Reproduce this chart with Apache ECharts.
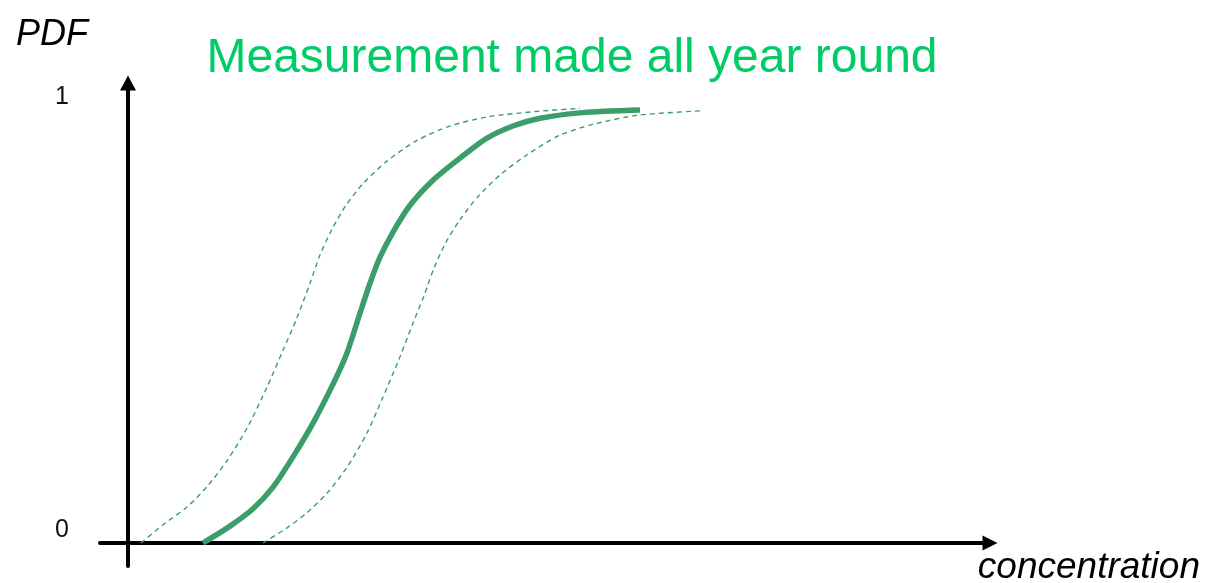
<!DOCTYPE html>
<html>
<head>
<meta charset="utf-8">
<script src="https://cdn.jsdelivr.net/npm/echarts@6/dist/echarts.min.js"></script>
<style>
html,body{margin:0;padding:0;background:#fff;}
#c{width:1208px;height:583px;}
</style>
</head>
<body>
<div id="c"></div>
<script>
const titleText = 'Measurement made all year round';
const xName = 'concentration';
const yName = 'PDF';
const yTickValues = [0, 1];

const mainX = [75, 102, 125, 145, 165, 185, 205, 219, 232, 242, 252, 265, 282, 305, 332, 359, 385, 412, 455, 512];
const mainY = [0, 0.039, 0.079, 0.129, 0.199, 0.277, 0.367, 0.439, 0.531, 0.600, 0.660, 0.718, 0.780, 0.838, 0.889, 0.935, 0.963, 0.981, 0.994, 1.0];

const upperX = [13, 35, 59, 79, 99, 119, 139, 155, 169, 182, 192, 204, 218, 235, 259, 289, 322, 359, 405, 452];
const upperY = [0, 0.042, 0.083, 0.130, 0.190, 0.265, 0.360, 0.445, 0.520, 0.600, 0.665, 0.725, 0.780, 0.830, 0.882, 0.930, 0.963, 0.984, 0.996, 1.004];

const lowerX = [135, 159, 179, 199, 219, 239, 255, 272, 285, 296, 306, 318, 333, 350, 372, 398, 430, 465, 510, 572];
const lowerY = [0, 0.035, 0.070, 0.115, 0.175, 0.254, 0.337, 0.430, 0.508, 0.571, 0.635, 0.695, 0.750, 0.800, 0.850, 0.895, 0.940, 0.967, 0.988, 0.998];

const zip = (xs, ys) => xs.map((x, i) => [x, ys[i]]);
const green = '#3a9d6a';
const font = 'Liberation Sans, Arial, sans-serif';

const chart = echarts.init(document.getElementById('c'), null, {renderer: 'canvas'});
chart.setOption({
  animation: false,
  backgroundColor: '#ffffff',
  title: {
    text: titleText,
    left: 567,
    top: 30,
    textAlign: 'center',
    textStyle: {color: '#00cc66', fontSize: 48, fontWeight: 'normal', fontFamily: font}
  },
  grid: {left: 100, right: 218, top: 83, bottom: 17, containLabel: false, outerBoundsMode: 'none'},
  xAxis: {
    type: 'value',
    min: -28,
    max: 862,
    name: xName,
    nameLocation: 'end',
    nameGap: 210,
    nameTextStyle: {fontSize: 37, fontStyle: 'italic', color: '#000', fontFamily: font, align: 'right', verticalAlign: 'top', padding: [6, 0, 0, 0]},
    axisLine: {onZero: true, symbol: ['none', 'triangle'], symbolSize: [15, 15], lineStyle: {color: '#000', width: 4}},
    axisTick: {show: false},
    axisLabel: {show: false},
    splitLine: {show: false}
  },
  yAxis: {
    type: 'value',
    min: -0.0531,
    max: 1.0624,
    name: yName,
    nameLocation: 'end',
    nameGap: 30,
    nameTextStyle: {fontSize: 36, fontStyle: 'italic', color: '#000', fontFamily: font, align: 'right', padding: [0, 40, 0, 0]},
    axisLine: {onZero: true, symbol: ['none', 'triangle'], symbolSize: [16, 15], lineStyle: {color: '#000', width: 4}},
    axisTick: {show: false},
    axisLabel: {
      customValues: yTickValues,
      margin: 31,
      fontSize: 25,
      color: '#111',
      fontFamily: font,
      verticalAlign: 'bottom'
    },
    splitLine: {show: false}
  },
  series: [
    {
      name: 'upper', type: 'line', data: zip(upperX, upperY), smooth: 0.25, symbol: 'none',
      lineStyle: {color: green, width: 1.4, type: [5, 4]}
    },
    {
      name: 'lower', type: 'line', data: zip(lowerX, lowerY), smooth: 0.25, symbol: 'none',
      lineStyle: {color: green, width: 1.4, type: [5, 4]}
    },
    {
      name: 'main', type: 'line', data: zip(mainX, mainY), smooth: 0.25, symbol: 'none',
      lineStyle: {color: green, width: 5.5, cap: 'butt'}
    }
  ]
});
</script>
</body>
</html>
